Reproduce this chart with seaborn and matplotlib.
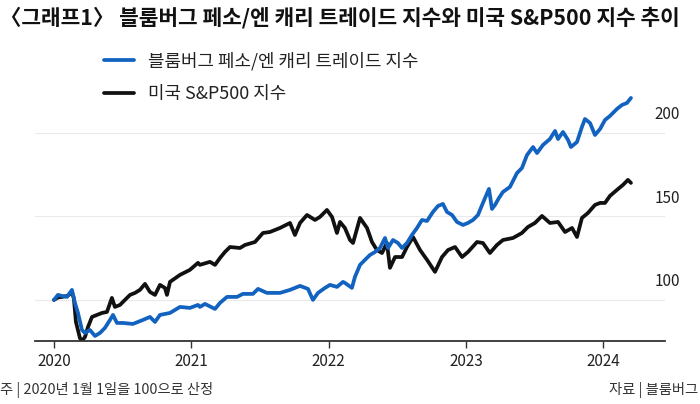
import numpy as np
import pandas as pd
import matplotlib
matplotlib.use('Agg')
import matplotlib.pyplot as plt
import seaborn as sns

# ── data: years since 2020-01-01, index (2020-01-01 = 100)
carry_t = [0.000, 0.029, 0.058, 0.095, 0.131, 0.153, 0.175, 0.204, 0.226, 0.262,
           0.299, 0.335, 0.371, 0.408, 0.430, 0.459, 0.503, 0.575, 0.648, 0.699,
           0.736, 0.772, 0.845, 0.918, 0.990, 1.049, 1.063, 1.100, 1.173, 1.209,
           1.260, 1.333, 1.376, 1.449, 1.486, 1.551, 1.646, 1.719, 1.792, 1.850,
           1.886, 1.923, 1.974, 2.010, 2.061, 2.105, 2.119, 2.170, 2.192, 2.229,
           2.265, 2.301, 2.338, 2.374, 2.411, 2.433, 2.469, 2.505, 2.535, 2.571,
           2.607, 2.644, 2.680, 2.717, 2.760, 2.797, 2.833, 2.862, 2.899, 2.935,
           2.979, 3.015, 3.052, 3.088, 3.124, 3.168, 3.190, 3.212, 3.241, 3.270,
           3.321, 3.372, 3.408, 3.445, 3.489, 3.518, 3.561, 3.612, 3.649, 3.671,
           3.707, 3.744, 3.765, 3.809, 3.845, 3.867, 3.904, 3.940, 3.977, 4.013,
           4.049, 4.100, 4.137, 4.173, 4.202]
carry_v = [100.0, 103.0, 102.4, 101.8, 106.0, 98.2, 92.2, 82.0, 80.2, 82.0,
           78.4, 80.2, 83.2, 88.0, 91.0, 86.2, 86.2, 85.6, 88.0, 89.8,
           86.8, 91.0, 92.2, 95.8, 95.2, 97.0, 95.8, 97.6, 94.6, 98.2,
           101.8, 101.8, 103.6, 103.6, 106.6, 104.2, 104.2, 106.0, 108.4, 106.6,
           100.0, 104.2, 107.2, 109.0, 107.8, 110.8, 110.2, 107.2, 113.8, 121.0,
           124.0, 126.9, 128.7, 131.1, 137.1, 131.1, 135.9, 134.1, 131.1, 134.1,
           138.9, 143.1, 147.9, 147.3, 152.7, 156.3, 157.5, 152.7, 150.9, 146.7,
           144.9, 146.1, 147.9, 150.9, 158.1, 166.5, 154.5, 156.9, 161.1, 164.7,
           167.7, 176.0, 179.0, 186.8, 191.6, 188.0, 192.8, 196.4, 201.2, 196.4,
           200.6, 195.8, 191.6, 194.6, 203.6, 208.4, 206.0, 198.8, 202.4, 207.8,
           210.2, 214.4, 216.8, 218.0, 221.0]

spx_t = [0.000, 0.030, 0.060, 0.100, 0.130, 0.145, 0.160, 0.189, 0.204, 0.226,
         0.248, 0.277, 0.313, 0.350, 0.386, 0.422, 0.444, 0.481, 0.517, 0.554,
         0.590, 0.626, 0.663, 0.699, 0.736, 0.772, 0.808, 0.823, 0.845, 0.918,
         0.990, 1.049, 1.063, 1.136, 1.173, 1.209, 1.245, 1.282, 1.355, 1.391,
         1.464, 1.522, 1.573, 1.646, 1.719, 1.755, 1.792, 1.843, 1.901, 1.937,
         1.988, 2.025, 2.061, 2.083, 2.119, 2.156, 2.178, 2.229, 2.280, 2.316,
         2.352, 2.389, 2.425, 2.447, 2.484, 2.535, 2.571, 2.615, 2.666, 2.717,
         2.775, 2.826, 2.870, 2.921, 2.972, 3.015, 3.081, 3.124, 3.175, 3.226,
         3.270, 3.343, 3.408, 3.452, 3.503, 3.554, 3.612, 3.671, 3.722, 3.773,
         3.809, 3.845, 3.889, 3.940, 3.977, 4.013, 4.049, 4.100, 4.144, 4.180,
         4.202]
spx_v = [100.0, 101.5, 101.8, 102.5, 104.5, 101.0, 86.8, 77.2, 75.4, 77.8,
         83.8, 89.8, 91.0, 92.2, 92.8, 101.2, 95.8, 97.0, 100.0, 103.0,
         104.2, 106.0, 109.6, 104.8, 103.0, 109.0, 107.2, 103.0, 110.8, 115.0,
         118.0, 122.2, 121.0, 122.8, 121.0, 125.1, 128.7, 131.7, 131.1, 132.9,
         134.7, 140.1, 140.7, 143.1, 146.1, 138.9, 146.1, 150.9, 147.9, 149.7,
         153.9, 149.7, 140.1, 146.7, 143.1, 135.9, 134.1, 149.1, 143.1, 134.7,
         129.9, 128.1, 134.1, 119.2, 125.7, 125.7, 131.7, 137.7, 129.9, 124.0,
         116.8, 125.7, 129.9, 131.7, 125.7, 128.7, 134.7, 134.1, 128.1, 132.9,
         135.9, 137.1, 140.1, 143.7, 146.1, 150.3, 146.1, 146.7, 140.7, 143.1,
         137.7, 149.1, 152.1, 156.9, 158.1, 158.1, 162.3, 165.9, 168.9, 171.9,
         170.1]

carry_name = '블룸버그 페소/엔 캐리 트레이드 지수'
spx_name = '미국 S&P500 지수'
year_ticks = [2020, 2021, 2022, 2023, 2024]
level_ticks = [100, 150, 200]

title = '〈그래프1〉 블룸버그 페소/엔 캐리 트레이드 지수와 미국 S&P500 지수 추이'
note = '주 | 2020년 1월 1일을 100으로 산정'
source = '자료 | 블룸버그'

df = pd.concat([
    pd.DataFrame({'year': 2020 + np.array(carry_t), 'index': carry_v, 'series': carry_name}),
    pd.DataFrame({'year': 2020 + np.array(spx_t), 'index': spx_v, 'series': spx_name}),
], ignore_index=True)

# ── figure ───────────────────────────────────────────────────
sns.set_theme(style='white')
plt.rcParams['font.family'] = ['Noto Sans CJK KR', 'DejaVu Sans']

fig = plt.figure(figsize=(7, 4.04), dpi=100)
ax = fig.add_axes([0.05, 0.156, 0.9, 0.609])

sns.lineplot(data=df, x='year', y='index', hue='series',
             hue_order=[carry_name, spx_name],
             palette=['#1262c0', '#111111'], linewidth=2.7,
             estimator=None, ax=ax)
# blue drawn over black
ax.lines[0].set_zorder(3)
ax.lines[1].set_zorder(2)

ax.set_xlim(2019.862, 2024.45)
ax.set_ylim(75.4, 222.8)
ax.set_xlabel('')
ax.set_ylabel('')

for s in ['left', 'top', 'right']:
    ax.spines[s].set_visible(False)
ax.spines['bottom'].set_color('#333333')
ax.spines['bottom'].set_linewidth(1.3)

ax.set_xticks(year_ticks)
ax.set_xticklabels([str(y) for y in year_ticks])
ax.tick_params(axis='x', direction='out', length=5, width=1, color='#333333',
               labelsize=11, labelcolor='#222222', pad=4, bottom=True)

ax.set_yticks(level_ticks)
ax.tick_params(axis='y', left=False, labelleft=False)
ax.grid(axis='y', color='#e9e9e9', linewidth=0.8)
ax.grid(axis='x', visible=False)

for v in level_ticks:
    ax.annotate(str(v), xy=(0.984, v), xycoords=('axes fraction', 'data'),
                xytext=(0, 7), textcoords='offset points',
                ha='left', va='bottom', fontsize=11, color='#222222')

handles, labels = ax.get_legend_handles_labels()
ax.legend(handles, labels, loc='upper left',
          bbox_to_anchor=(104 / 700, 1 - 52 / 404), bbox_transform=fig.transFigure,
          frameon=False, fontsize=12.9, handlelength=1.65, handletextpad=0.8,
          labelspacing=0.8, borderpad=0, borderaxespad=0, labelcolor='#222222')

fig.text(0.0, 1 - 18 / 404, title, fontsize=15.4, fontweight='bold',
         ha='left', va='center', color='#111111')
fig.text(0.0, 1 - 390 / 404, note, fontsize=10.3, ha='left', va='center', color='#333333')
fig.text(698 / 700, 1 - 390 / 404, source, fontsize=10.3, ha='right', va='center', color='#333333')

fig.savefig('out.png', dpi=100)
plt.close(fig)
